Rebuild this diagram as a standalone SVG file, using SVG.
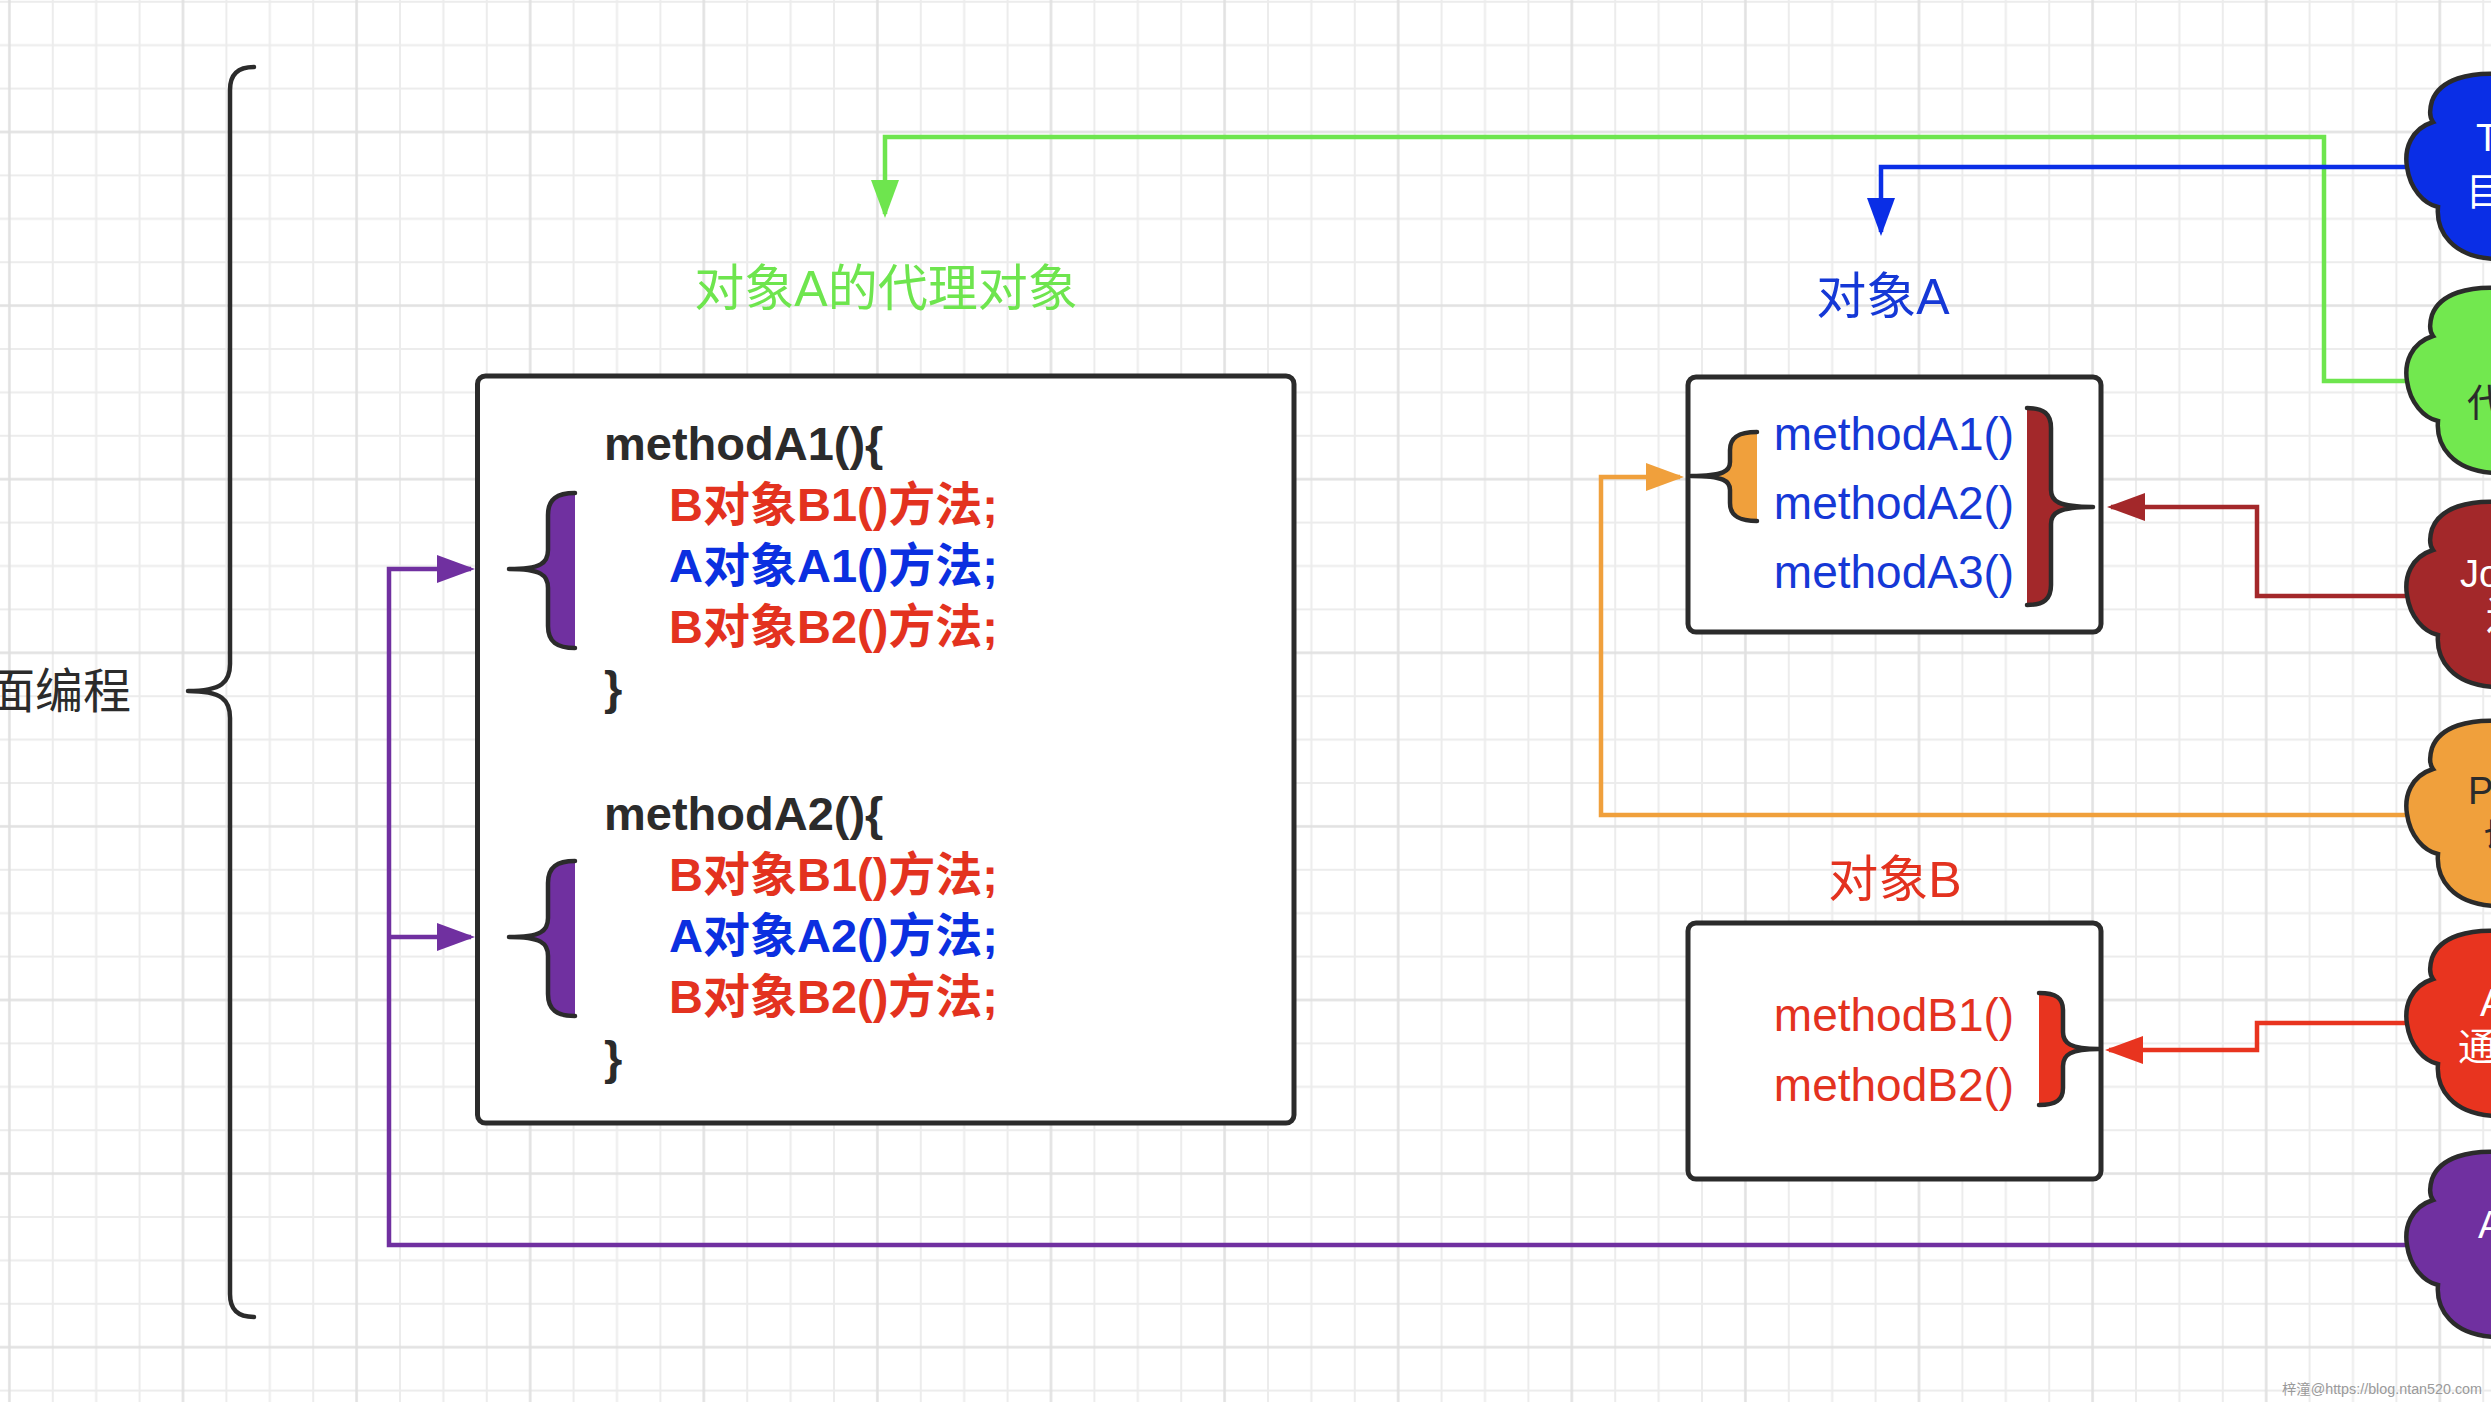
<svg xmlns="http://www.w3.org/2000/svg" width="2491" height="1402" viewBox="0 0 2491 1402">
<style>
text{font-family:"Liberation Sans","Noto Sans CJK SC",sans-serif}
.box{fill:#fff;stroke:#2b2b2b;stroke-width:5}
.bs{fill:none;stroke:#2b2b2b;stroke-width:4.5;stroke-linecap:round;stroke-linejoin:round}
.conn{fill:none;stroke-width:4.5}
.code{font-size:47px;font-weight:bold;fill:#2b2b2b}
.red{font-size:47px;font-weight:bold;fill:#e3321f}
.blu{font-size:47px;font-weight:bold;fill:#0b2fe0}
.m{font-size:46px;text-anchor:middle}
.ct{font-size:38px}
.cloud{stroke:#2b2b2b;stroke-width:4.5}
</style>
<defs>
<pattern id="grid" x="7.9" y="-43.1" width="173.6" height="173.6" patternUnits="userSpaceOnUse">
<path d="M44.9,0V173.6M88.3,0V173.6M131.7,0V173.6M0,44.9H173.6M0,88.3H173.6M0,131.7H173.6" stroke="#ececec" stroke-width="2"/>
<path d="M1.5,0V173.6M0,1.5H173.6" stroke="#e1e1e1" stroke-width="2.5"/>
</pattern>
<path id="cloudShape" d="M2500,-93 C2470,-95 2440,-88 2432,-66 C2429,-56 2430,-49 2433,-45 C2411,-38 2404,-18 2407,0 C2410,22 2424,37 2438,40 C2436,62 2450,92 2500,92 Z"/>
<marker id="ah-purple" markerWidth="38" markerHeight="28" refX="34" refY="14" orient="auto" markerUnits="userSpaceOnUse"><path d="M0,0L38,14L0,28Z" fill="#7030a0"/></marker>
<marker id="ah-green" markerWidth="38" markerHeight="28" refX="34" refY="14" orient="auto" markerUnits="userSpaceOnUse"><path d="M0,0L38,14L0,28Z" fill="#6ee54e"/></marker>
<marker id="ah-blue" markerWidth="38" markerHeight="28" refX="34" refY="14" orient="auto" markerUnits="userSpaceOnUse"><path d="M0,0L38,14L0,28Z" fill="#0a2ee6"/></marker>
<marker id="ah-dred" markerWidth="38" markerHeight="28" refX="34" refY="14" orient="auto" markerUnits="userSpaceOnUse"><path d="M0,0L38,14L0,28Z" fill="#a3282a"/></marker>
<marker id="ah-orange" markerWidth="38" markerHeight="28" refX="34" refY="14" orient="auto" markerUnits="userSpaceOnUse"><path d="M0,0L38,14L0,28Z" fill="#f0a03c"/></marker>
<marker id="ah-red" markerWidth="38" markerHeight="28" refX="34" refY="14" orient="auto" markerUnits="userSpaceOnUse"><path d="M0,0L38,14L0,28Z" fill="#e8341f"/></marker>
</defs>
<rect width="2491" height="1402" fill="#ffffff"/>
<rect width="2491" height="1402" fill="url(#grid)"/>

<g id="connectors">
<path class="conn" stroke="#6ee54e" d="M2409,381H2324V137H885V214" marker-end="url(#ah-green)"/>
<path class="conn" stroke="#0a2ee6" d="M2409,167H1881V232" marker-end="url(#ah-blue)"/>
<path class="conn" stroke="#a3282a" d="M2409,596H2257V507H2111" marker-end="url(#ah-dred)"/>
<path class="conn" stroke="#f0a03c" d="M2409,815H1601V477H1680" marker-end="url(#ah-orange)"/>
<path class="conn" stroke="#e8341f" d="M2409,1023H2257V1050H2109" marker-end="url(#ah-red)"/>
<path class="conn" stroke="#7030a0" d="M2409,1245H389V569H471" marker-end="url(#ah-purple)"/>
<path class="conn" stroke="#7030a0" d="M389,937H471" marker-end="url(#ah-purple)"/>
</g>

<g id="aop-brace">
<path class="bs" stroke-width="5" d="M254,67 C238,67 230,74 230,90 L230,664 C230,682 222,691 188,691 C222,691 230,700 230,718 L230,1294 C230,1310 238,1317 254,1317"/>
<text x="131" y="708" font-size="48" fill="#2b2b2b" text-anchor="end">面编程</text>
</g>

<g id="proxy-label">
<text x="886" y="306" font-size="50" fill="#6ee54e" text-anchor="middle">对象A的代理对象</text>
</g>

<g id="proxy-box">
<rect class="box" x="477.5" y="376" width="816.5" height="747" rx="8"/>
<path fill="#7030a0" d="M575,493 C557,493 548,499 548,515 L548,550 C548,563 541,569 509,569 C541,569 548,575 548,588 L548,626 C548,642 557,648 575,648 Z"/>
<path class="bs" d="M575,493 C557,493 548,499 548,515 L548,550 C548,563 541,569 509,569 C541,569 548,575 548,588 L548,626 C548,642 557,648 575,648"/>
<path fill="#7030a0" d="M575,861 C557,861 548,867 548,883 L548,918 C548,931 541,937 509,937 C541,937 548,943 548,956 L548,994 C548,1010 557,1016 575,1016 Z"/>
<path class="bs" d="M575,861 C557,861 548,867 548,883 L548,918 C548,931 541,937 509,937 C541,937 548,943 548,956 L548,994 C548,1010 557,1016 575,1016"/>
<text class="code" x="604" y="460">methodA1(){</text>
<text class="red" x="669" y="521">B对象B1()方法;</text>
<text class="blu" x="669" y="582">A对象A1()方法;</text>
<text class="red" x="669" y="643">B对象B2()方法;</text>
<text class="code" x="604" y="704">}</text>
<text class="code" x="604" y="830">methodA2(){</text>
<text class="red" x="669" y="891">B对象B1()方法;</text>
<text class="blu" x="669" y="952">A对象A2()方法;</text>
<text class="red" x="669" y="1013">B对象B2()方法;</text>
<text class="code" x="604" y="1074">}</text>
</g>

<g id="objA-label">
<text x="1883" y="314" font-size="50" fill="#1538d6" text-anchor="middle">对象A</text>
</g>

<g id="objA-box">
<rect class="box" x="1688" y="377" width="413" height="255" rx="8"/>
<path fill="#f0a03c" d="M1757,432 C1739,432 1730,437 1730,450 L1730,462 C1730,471 1724,476 1691,476 C1724,476 1730,481 1730,490 L1730,503 C1730,516 1739,521 1757,521 Z"/>
<path class="bs" d="M1757,432 C1739,432 1730,437 1730,450 L1730,462 C1730,471 1724,476 1691,476 C1724,476 1730,481 1730,490 L1730,503 C1730,516 1739,521 1757,521"/>
<path fill="#a3282a" d="M2027,408 C2044,408 2051,414 2051,428 L2051,490 C2051,501 2058,507 2093,507 C2058,507 2051,513 2051,524 L2051,585 C2051,599 2044,605 2027,605 Z"/>
<path class="bs" d="M2027,408 C2044,408 2051,414 2051,428 L2051,490 C2051,501 2058,507 2093,507 C2058,507 2051,513 2051,524 L2051,585 C2051,599 2044,605 2027,605"/>
<text class="m" x="1894" y="450" fill="#1538d6">methodA1()</text>
<text class="m" x="1894" y="519" fill="#1538d6">methodA2()</text>
<text class="m" x="1894" y="588" fill="#1538d6">methodA3()</text>
</g>

<g id="objB-label">
<text x="1895" y="897" font-size="50" fill="#e3321f" text-anchor="middle">对象B</text>
</g>

<g id="objB-box">
<rect class="box" x="1688" y="923" width="413" height="256" rx="8"/>
<path fill="#e8341f" d="M2039,993 C2056,993 2063,998 2063,1010 L2063,1032 C2063,1043 2070,1049 2099,1049 C2070,1049 2063,1055 2063,1066 L2063,1088 C2063,1100 2056,1105 2039,1105 Z"/>
<path class="bs" d="M2039,993 C2056,993 2063,998 2063,1010 L2063,1032 C2063,1043 2070,1049 2099,1049 C2070,1049 2063,1055 2063,1066 L2063,1088 C2063,1100 2056,1105 2039,1105"/>
<text class="m" x="1894" y="1031" fill="#e3321f">methodB1()</text>
<text class="m" x="1894" y="1101" fill="#e3321f">methodB2()</text>
</g>

<g id="cloud-blue">
<use href="#cloudShape" y="167" class="cloud" fill="#0a2ee6"/>
<text class="ct" x="2476" y="151" fill="#fff">T</text>
<text class="ct" x="2466" y="205" fill="#fff">目</text>
</g>
<g id="cloud-green">
<use href="#cloudShape" y="381" class="cloud" fill="#72e84f"/>
<text class="ct" x="2467" y="416" fill="#2b2b2b">代</text>
</g>
<g id="cloud-darkred">
<use href="#cloudShape" y="595" class="cloud" fill="#a3282a"/>
<text class="ct" x="2460" y="587" fill="#fff">Jo</text>
<text class="ct" x="2486" y="629" fill="#fff">连</text>
</g>
<g id="cloud-orange">
<use href="#cloudShape" y="814" class="cloud" fill="#f0a03c"/>
<text class="ct" x="2468" y="804" fill="#2b2b2b">P</text>
<text class="ct" x="2484" y="850" fill="#2b2b2b">切</text>
</g>
<g id="cloud-red">
<use href="#cloudShape" y="1024" class="cloud" fill="#e8341f"/>
<text class="ct" x="2480" y="1016" fill="#fff">A</text>
<text class="ct" x="2458" y="1060" fill="#fff">通</text>
</g>
<g id="cloud-purple">
<use href="#cloudShape" y="1245" class="cloud" fill="#7030a0"/>
<text class="ct" x="2478" y="1238" fill="#fff">A</text>
</g>

<g id="watermark">
<text x="2282" y="1394" font-size="14" fill="#9a9a9a" textLength="200" lengthAdjust="spacingAndGlyphs">梓潼@https://blog.ntan520.com</text>
</g>
</svg>
